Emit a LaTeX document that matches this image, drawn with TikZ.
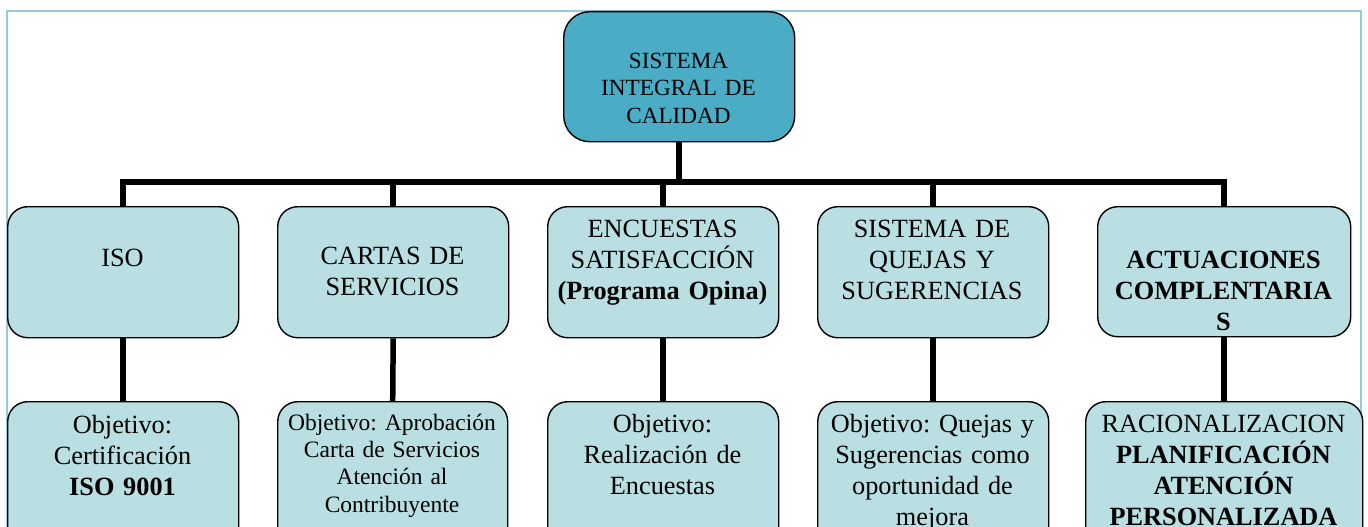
\documentclass[tikz,border=0pt]{standalone}
\usepackage{fontspec}
\setmainfont{Liberation Serif}
\frenchspacing
\definecolor{rootfill}{RGB}{75,172,198}
\definecolor{boxfill}{RGB}{185,223,227}
\definecolor{framec}{RGB}{146,205,220}
\pgfdeclarelayer{background}
\pgfsetlayers{background,main}
\begin{document}
\begin{tikzpicture}[x=1pt,y=-1pt,
  box/.style={draw=black, line width=1.4pt, rounded corners=20pt, fill=boxfill, inner sep=0pt, anchor=north west},
  rootbox/.style={box, fill=rootfill, rounded corners=26pt},
  txt/.style={align=center, inner sep=0pt, anchor=base, font=\frenchspacing\fontsize{26.3}{31}\selectfont},
  txtroot/.style={txt, font=\frenchspacing\fontsize{23.2}{27.5}\selectfont},
  txtsmall/.style={txt, font=\frenchspacing\fontsize{23.5}{27.4}\selectfont},
  conn/.style={draw=black, line width=5.5pt, line join=miter}]
\useasboundingbox (0,0) rectangle (1368,527);

% boxes
\node[rootbox, minimum width=231pt, minimum height=130pt] (root) at (563,11) {};
\node[box, minimum width=231pt, minimum height=131pt] (iso) at (7,206) {};
\node[box, minimum width=231pt, minimum height=131pt] (cartas) at (277,206) {};
\node[box, minimum width=231pt, minimum height=131pt] (encu) at (547,206) {};
\node[box, minimum width=231pt, minimum height=131pt] (quejas) at (817,206) {};
\node[box, minimum width=253pt, minimum height=130pt] (act) at (1097,206) {};

\node[box, minimum width=231pt, minimum height=150pt] (isoo) at (7,401) {};
\node[box, minimum width=230pt, minimum height=150pt] (cartaso) at (277,401) {};
\node[box, minimum width=231pt, minimum height=150pt] (encuo) at (547,401) {};
\node[box, minimum width=231pt, minimum height=150pt] (quejaso) at (817,401) {};
\node[box, minimum width=277pt, minimum height=150pt] (acto) at (1085,401) {};

% texts
\node[txtroot, text width=225pt] (roott) at (678.5,68) {SISTEMA\\INTEGRAL DE\\CALIDAD};
\node[txt, text width=225pt] (isot) at (122.5,266) {ISO};
\node[txt, text width=225pt] (cartast) at (392.5,264) {CARTAS DE\\SERVICIOS};
\node[txt, text width=227pt] (encut) at (662.5,237) {ENCUESTAS\\SATISFACCIÓN\\\textbf{(Programa Opina)}};
\node[txt, text width=225pt] (quejast) at (932,237) {SISTEMA DE\\QUEJAS Y\\SUGERENCIAS};
\node[txt, text width=250pt] (actt) at (1223.5,268) {\textbf{ACTUACIONES}\\\textbf{COMPLENTARIA}\\\textbf{S}};

\node[txt, text width=225pt] (isoot) at (122.5,433) {Objetivo:\\Certificación\\\textbf{ISO 9001}};
\node[txtsmall, text width=227pt] (cartasot) at (392,430) {Objetivo: Aprobación\\Carta de Servicios\\Atención al\\Contribuyente};
\node[txt, text width=225pt] (encuot) at (662.5,432) {Objetivo:\\Realización de\\Encuestas};
\node[txt, text width=229pt] (quejasot) at (932.5,432) {Objetivo: Quejas y\\Sugerencias como\\oportunidad de\\mejora};
\node[txt, text width=274pt] (actot) at (1223.5,432) {RACIONALIZACION\\\textbf{PLANIFICACIÓN}\\\textbf{ATENCIÓN}\\\textbf{PERSONALIZADA}};

\begin{pgfonlayer}{background}
  \draw[framec, line width=1.5pt] (7,11) rectangle (1361,580);
  \coordinate (bar) at (0,182);
  \foreach \c in {iso,cartas,encu,quejas,act}
    \draw[conn] (root.south) -- (root.south |- bar) -| (\c.north);
  \draw[conn] (iso.south) -- (isoo.north);
  \draw[conn] (cartas.south) -- (cartaso.north);
  \draw[conn] (encu.south) -- (encuo.north);
  \draw[conn] (quejas.south) -- (quejaso.north);
  \draw[conn] (act.south) -- (acto.north);
\end{pgfonlayer}
\end{tikzpicture}
\end{document}
